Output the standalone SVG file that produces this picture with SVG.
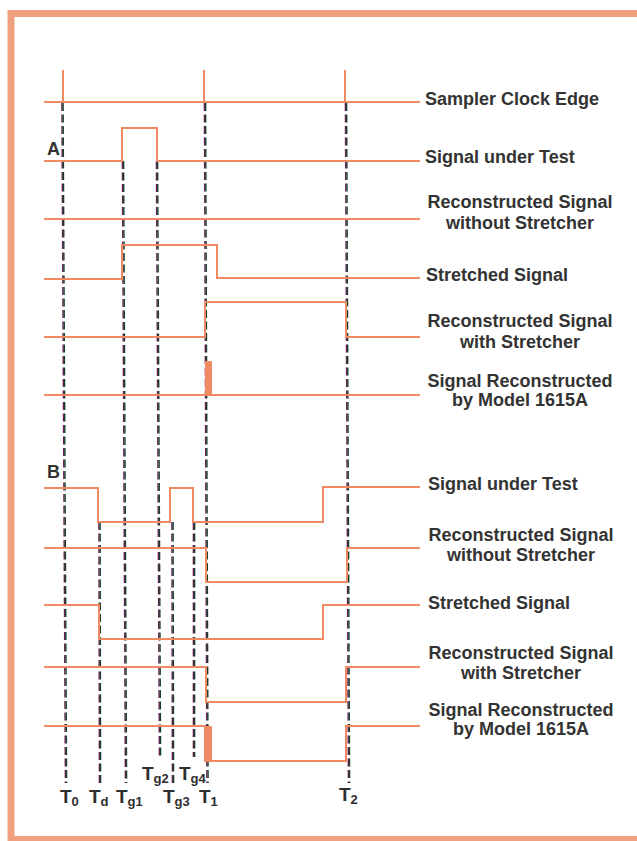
<svg xmlns="http://www.w3.org/2000/svg" xmlns:xlink="http://www.w3.org/1999/xlink" width="637" height="841" viewBox="0 0 637 841">
<style>
.sig{fill:none;stroke:#EF8A63;stroke-width:2;stroke-linejoin:miter;stroke-linecap:butt}
.blk{fill:#EF8A63}
.lbl{font-family:"Liberation Sans",Arial,sans-serif;font-weight:bold;font-size:18px;fill:#333333}
.mid{text-anchor:middle}
.tl{font-family:"Liberation Sans",Arial,sans-serif;font-weight:bold;font-size:19px;fill:#2e2e2e}
.sub{font-size:13px}
.dash{fill:none;stroke-width:1.4;stroke-dasharray:8 3.5}
</style>
<defs>
<g id="dashset">
<line class="dash" x1="62.5" y1="103" x2="66" y2="783"/>
<line class="dash" x1="99.5" y1="522" x2="100" y2="783"/>
<line class="dash" x1="123" y1="161" x2="126" y2="783"/>
<line class="dash" x1="157" y1="161" x2="160" y2="757"/>
<line class="dash" x1="172.5" y1="522" x2="173" y2="783"/>
<line class="dash" x1="194" y1="522" x2="194" y2="757"/>
<line class="dash" x1="205" y1="103" x2="207.5" y2="783"/>
<line class="dash" x1="346" y1="103" x2="349" y2="783"/>
</g>
</defs>
<rect width="637" height="841" fill="#ffffff"/>
<rect id="frame" x="11" y="13.5" width="640" height="826" fill="none" stroke="#F0A07E" stroke-width="7"/>

<g id="connectors">
<use xlink:href="#dashset" stroke="#6E1E52" transform="translate(-0.6,0)"/>
<use xlink:href="#dashset" stroke="#123F2C" transform="translate(0.6,0)"/>
</g>

<g id="labelA"><text class="lbl" x="47" y="155" font-size="17">A</text></g>
<g id="labelB"><text class="lbl" x="47" y="478" font-size="17">B</text></g>

<g id="clock">
<path class="sig" d="M44 102H420M63 70V102M204 70V102M345 70V102"/>
<text class="lbl" x="425" y="105">Sampler Clock Edge</text>
</g>
<g id="a-signal-under-test">
<path class="sig" d="M44 161H122V128H157V161H420"/>
<text class="lbl" x="425" y="163">Signal under Test</text>
</g>
<g id="a-recon-without">
<path class="sig" d="M44 219H420"/>
<text class="lbl mid" x="520" y="208">Reconstructed Signal</text>
<text class="lbl mid" x="520" y="229">without Stretcher</text>
</g>
<g id="a-stretched">
<path class="sig" d="M44 279H122V245H217V278H420"/>
<text class="lbl" x="426" y="281">Stretched Signal</text>
</g>
<g id="a-recon-with">
<path class="sig" d="M44 337H205V302H346V337H420"/>
<text class="lbl mid" x="520" y="327">Reconstructed Signal</text>
<text class="lbl mid" x="520" y="348">with Stretcher</text>
</g>
<g id="a-1615a">
<path class="sig" d="M44 395H420"/>
<rect class="blk" x="205" y="361" width="7" height="34"/>
<text class="lbl mid" x="520" y="387">Signal Reconstructed</text>
<text class="lbl mid" x="520" y="406">by Model 1615A</text>
</g>

<g id="b-signal-under-test">
<path class="sig" d="M44 488H98V522H170V488H193V522H323V487H420"/>
<text class="lbl" x="428" y="490">Signal under Test</text>
</g>
<g id="b-recon-without">
<path class="sig" d="M44 548H206V582H347V548H420"/>
<text class="lbl mid" x="521" y="541">Reconstructed Signal</text>
<text class="lbl mid" x="521" y="561">without Stretcher</text>
</g>
<g id="b-stretched">
<path class="sig" d="M44 605H99V639H323V605H420"/>
<text class="lbl" x="428" y="609">Stretched Signal</text>
</g>
<g id="b-recon-with">
<path class="sig" d="M44 667H206V702H346V667H420"/>
<text class="lbl mid" x="521" y="659">Reconstructed Signal</text>
<text class="lbl mid" x="521" y="679">with Stretcher</text>
</g>
<g id="b-1615a">
<path class="sig" d="M44 726H205V761H346V726H420"/>
<rect class="blk" x="205" y="726" width="7" height="35"/>
<text class="lbl mid" x="521" y="716">Signal Reconstructed</text>
<text class="lbl mid" x="521" y="735">by Model 1615A</text>
</g>

<g id="time-labels">
<text class="tl" x="60" y="803">T<tspan class="sub" dy="3">0</tspan></text>
<text class="tl" x="89" y="803">T<tspan class="sub" dy="3">d</tspan></text>
<text class="tl" x="116" y="803">T<tspan class="sub" dy="3">g1</tspan></text>
<text class="tl" x="142" y="780">T<tspan class="sub" dy="3">g2</tspan></text>
<text class="tl" x="163" y="803">T<tspan class="sub" dy="3">g3</tspan></text>
<text class="tl" x="179" y="780">T<tspan class="sub" dy="3">g4</tspan></text>
<text class="tl" x="199" y="803">T<tspan class="sub" dy="3">1</tspan></text>
<text class="tl" x="339" y="801">T<tspan class="sub" dy="3">2</tspan></text>
</g>
</svg>
